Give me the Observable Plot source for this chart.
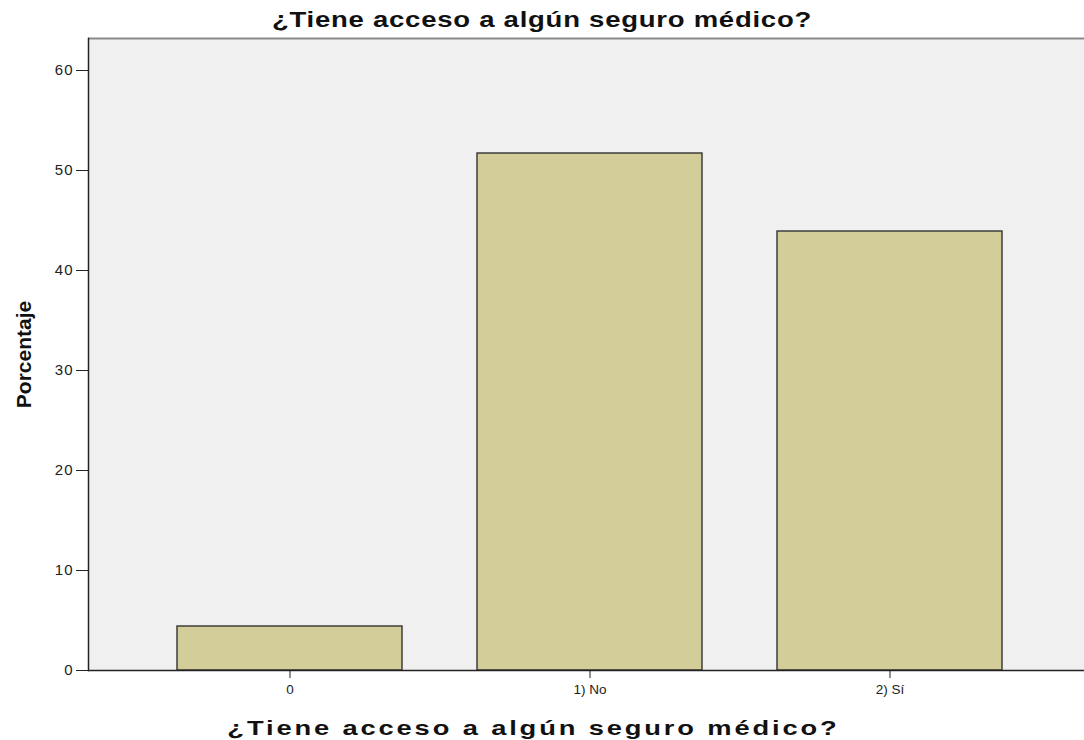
<!DOCTYPE html>
<html>
<head>
<meta charset="utf-8">
<script src="https://cdn.jsdelivr.net/npm/d3@7"></script>
<script src="https://cdn.jsdelivr.net/npm/@observablehq/plot@0.6"></script>
<style>
  html, body { margin: 0; padding: 0; background: #fff; }
  body { position: relative; width: 1084px; height: 740px; overflow: hidden; font-family: "Liberation Sans", Arial, sans-serif; }
  #title { position: absolute; top: 1px; left: 0; width: 1084px; text-align: center; line-height: 38px; }
  #title span { display: inline-block; font-weight: bold; font-size: 22px; color: #111; letter-spacing: 0.6px; transform: scaleX(1.25); transform-origin: center; }
  #xlabel { position: absolute; top: 713px; left: 0; width: 1067px; text-align: center; line-height: 30px; }
  #xlabel span { display: inline-block; font-weight: bold; font-size: 21px; color: #111; letter-spacing: 2.2px; transform: scaleX(1.3); transform-origin: center; }
  #chart { position: absolute; top: 30px; left: 0; }
</style>
</head>
<body>
<div id="title"><span>¿Tiene acceso a algún seguro médico?</span></div>
<div id="chart"></div>
<div id="xlabel"><span>¿Tiene acceso a algún seguro médico?</span></div>
<script>
const categories = ["0", "1) No", "2) Sí"];
const percentages = [4.4, 51.7, 43.9];
const yTicks = [0, 10, 20, 30, 40, 50, 60];
const yMax = 63.2;

const data = categories.map((c, i) => ({cat: c, pct: percentages[i]}));

const chart = Plot.plot({
  width: 1084,
  height: 680,
  marginLeft: 88,
  marginRight: 0,
  marginTop: 8,
  marginBottom: 40,
  style: {fontFamily: "'Liberation Sans', Arial, sans-serif", fontSize: "13px", color: "#222", background: "transparent"},
  x: {domain: categories, range: [88, 1090], paddingInner: 0.25, paddingOuter: 0.29},
  y: {domain: [0, yMax]},
  marks: [
    Plot.frame({fill: "#f0f0f0", stroke: null}),
    Plot.barY(data, {x: "cat", y: "pct", fill: "#d3ce99", stroke: "#333", strokeWidth: 1.4}),
    Plot.ruleY([yMax], {stroke: "#8a8a8a", strokeWidth: 2}),
    Plot.frame({anchor: "left", stroke: "#222", strokeWidth: 1.5}),
    Plot.ruleY([0], {stroke: "#222", strokeWidth: 1.5}),
    Plot.axisY({ticks: yTicks, tickSize: 12, tickPadding: 3, fontSize: 15, stroke: "#222", label: "Porcentaje", labelAnchor: "center", labelArrow: "none", labelOffset: 72}),
    Plot.axisX({tickSize: 8, tickPadding: 6, fontSize: 13.5, stroke: "#222", label: null})
  ]
});
document.getElementById("chart").appendChild(chart);
chart.querySelectorAll('g[aria-label="y-axis tick label"] text').forEach(t => t.setAttribute("letter-spacing", "1px"));
const yl = chart.querySelector('g[aria-label="y-axis label"] text');
if (yl) { yl.setAttribute("font-weight", "bold"); yl.setAttribute("font-size", "21px"); yl.setAttribute("fill", "#111"); }
</script>
</body>
</html>
